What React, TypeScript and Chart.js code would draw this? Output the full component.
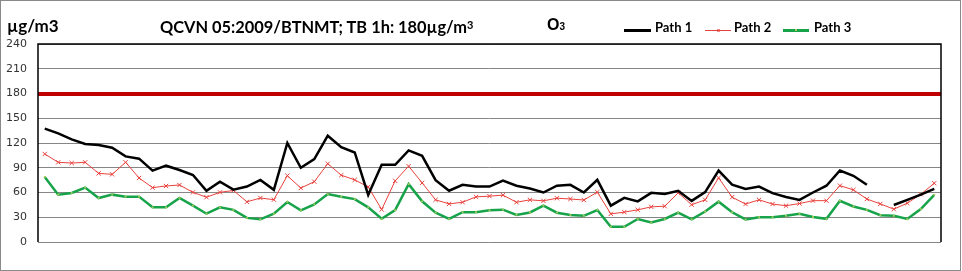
import React, { useEffect, useRef } from "react";
import { Chart, registerables } from "chart.js";

Chart.register(...registerables);

// Hourly O3 values (µg/m3)
const path1: (number | null)[] = [
  137.4, 131.7, 124.4, 118.8, 117.6, 114.3, 103.8, 101, 86.5, 92.5,
  87.3, 81.2, 62, 73, 63.5, 67.2, 75.3, 63.2, 120, 90,
  100.5, 128.8, 115, 108.5, 57, 93.5, 93.5, 111, 104.5, 75,
  62.2, 69.3, 67.2, 67.2, 74.3, 68.2, 64.8, 60, 68.2, 69.3,
  60, 75.3, 44, 53.5, 49.2, 59.6, 58.2, 62, 49.8, 60.5,
  86.5, 69.5, 64.4, 67.2, 59.2, 54.5, 51, 60, 68.2, 86.7,
  80.2, 69.3, null, 44.8, 51, 57.5, 64.4,
];
const path2: number[] = [
  106.7, 96.6, 95.7, 96.6, 83.2, 82, 96.6, 77.6, 65.9, 67.9,
  69.1, 60.2, 54.3, 60.2, 62.5, 48.7, 53.3, 51.3, 80.4, 65.4,
  73.1, 94.9, 81, 75.3, 66.8, 39.4, 74.1, 91.9, 71.7, 51.1,
  46.2, 48.2, 54.7, 55.6, 56.8, 48.2, 51.1, 49.9, 53.1, 52.1,
  50.9, 60.4, 34.1, 36.2, 39, 42.6, 43.4, 59.6, 45.2, 51.1,
  77.8, 54.3, 46, 51.1, 46, 44, 46.6, 50.1, 50.1, 68.3,
  63.2, 52.1, 46.2, 39.8, 47.1, 57.8, 71.3,
];
const path3: number[] = [
  78.8, 57.4, 59.4, 65.9, 53.3, 57.4, 55, 55, 42, 42,
  53.3, 44, 34.3, 42, 39, 29.2, 27.5, 34.3, 48.5, 38.4,
  45.6, 58.1, 54.8, 52, 42, 28.1, 38.6, 70.1, 49.3, 35.6,
  28.1, 36.2, 36.2, 38.6, 39.2, 32.9, 35.8, 44, 35.5, 32.7,
  31.7, 38.8, 18.4, 18.4, 27.9, 23.6, 27.9, 35.6, 27.5, 37,
  48.9, 36, 27.3, 30.1, 30.1, 31.7, 34.1, 30.3, 28.1, 49.9,
  43, 39, 32.5, 31.7, 27.9, 40, 57.2,
];
const categories: string[] = path1.map((_, i) => String(i + 1));
const yTicks: number[] = [0, 30, 60, 90, 120, 150, 180, 210, 240];
const limitValue = 180;
const seriesNames: string[] = ["Path 1", "Path 2", "Path 3"];
const unitLabel = "µg/m3";
const titleMain = "QCVN 05:2009/BTNMT; TB 1h: 180µg/m";
const titleSup = "3";

const C1 = "#000000";
const C2 = "#E8413C";
const C3 = "#17A34A";
const C3M = "#A8CC5C";

export default function App() {
  const ref = useRef<HTMLCanvasElement>(null);
  useEffect(() => {
    document.body.style.margin = "0";
    const frame = {
      id: "plotFrame",
      beforeDatasetsDraw(chart: any) {
        const { ctx, chartArea: a } = chart;
        ctx.save();
        ctx.strokeStyle = "#000";
        ctx.lineWidth = 1.5;
        ctx.beginPath();
        ctx.moveTo(a.left, a.bottom);
        ctx.lineTo(a.left, a.top);
        ctx.lineTo(a.right, a.top);
        ctx.lineTo(a.right, a.bottom);
        ctx.stroke();
        ctx.restore();
      },
    };
    const chart = new Chart(ref.current!, {
      type: "line",
      data: {
        labels: categories,
        datasets: [
          {
            label: seriesNames[0],
            data: path1,
            borderColor: C1,
            borderWidth: 2.5,
            pointRadius: 0,
            spanGaps: false,
            tension: 0,
          },
          {
            label: seriesNames[1],
            data: path2,
            borderColor: C2,
            borderWidth: 1,
            pointStyle: "crossRot",
            pointRadius: 3,
            pointBorderColor: C2,
            pointBorderWidth: 1,
            tension: 0,
          },
          {
            label: seriesNames[2],
            data: path3,
            borderColor: C3,
            borderWidth: 2.5,
            pointStyle: "rect",
            pointRadius: 1.3,
            pointBackgroundColor: C3M,
            pointBorderWidth: 0,
            tension: 0,
          },
        ],
      },
      options: {
        animation: false,
        responsive: false,
        maintainAspectRatio: false,
        layout: { padding: { top: 44, right: 21, bottom: 29, left: 0 } },
        plugins: { legend: { display: false }, tooltip: { enabled: false } },
        scales: {
          x: { display: false, offset: true },
          y: {
            min: 0,
            max: 240,
            afterBuildTicks: (s: any) => {
              s.ticks = yTicks.map((v) => ({ value: v }));
            },
            afterFit: (s: any) => {
              s.width = 38;
            },
            ticks: {
              padding: 11,
              color: "#333333",
              font: { family: "DejaVu Sans", size: 11 },
            },
            grid: {
              drawTicks: false,
              color: (c: any) => (c.tick && c.tick.value === limitValue ? "#C00000" : "#868686"),
              lineWidth: (c: any) => (c.tick && c.tick.value === limitValue ? 4 : 1),
            },
            border: { display: false },
          },
        },
      },
      plugins: [frame],
    });
    return () => chart.destroy();
  }, []);

  const boldFont = "Lato, 'Open Sans', sans-serif";
  const abs = (s: React.CSSProperties): React.CSSProperties => ({ position: "absolute", whiteSpace: "nowrap", ...s });
  return (
    <div style={{ position: "relative", width: 962, height: 271, overflow: "hidden" }}>
      <canvas ref={ref} width={962} height={271} style={{ position: "absolute", left: 0, top: 0, display: "block" }} />
      <div style={abs({ left: 0, top: 0, width: 961, height: 271, boxSizing: "border-box", border: "1px solid #8a8a8a", pointerEvents: "none" })} />
      <div style={abs({ left: 7, top: 17, fontFamily: boldFont, fontWeight: 700, fontSize: 17, lineHeight: "17px", color: "#000" })}>{unitLabel}</div>
      <div style={abs({ left: 160, top: 17.5, fontFamily: boldFont, fontWeight: 700, fontSize: 16.4, lineHeight: "17px", color: "#000" })}>
        {titleMain}
        <sup style={{ fontSize: 11, verticalAlign: "top", position: "relative", top: -2 }}>{titleSup}</sup>
      </div>
      <div style={abs({ left: 547, top: 17, fontFamily: "Arial, 'Liberation Sans', sans-serif", fontWeight: 700, fontSize: 16, lineHeight: "16px", color: "#000" })}>
        O<span style={{ fontSize: 10 }}>3</span>
      </div>
      <div style={abs({ left: 624, top: 29, width: 27, height: 3, background: C1 })} />
      <div style={abs({ left: 655, top: 21, fontFamily: boldFont, fontWeight: 700, fontSize: 13, lineHeight: "13px" })}>{seriesNames[0]}</div>
      <div style={abs({ left: 705, top: 30, width: 26, height: 1, background: C2 })} />
      <div style={abs({ left: 717, top: 29, width: 3, height: 3, background: C2, opacity: 0.6 })} />
      <div style={abs({ left: 734, top: 21, fontFamily: boldFont, fontWeight: 700, fontSize: 13, lineHeight: "13px" })}>{seriesNames[1]}</div>
      <div style={abs({ left: 783, top: 29, width: 26, height: 3, background: C3 })} />
      <div style={abs({ left: 795, top: 29, width: 2, height: 2, background: C3M })} />
      <div style={abs({ left: 814, top: 21, fontFamily: boldFont, fontWeight: 700, fontSize: 13, lineHeight: "13px" })}>{seriesNames[2]}</div>
    </div>
  );
}
